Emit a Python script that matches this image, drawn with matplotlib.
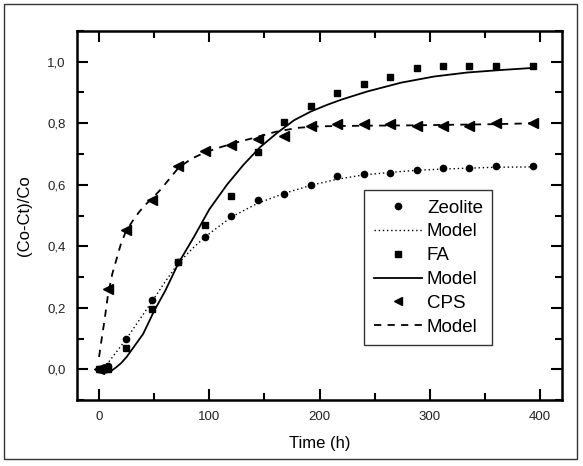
import matplotlib
matplotlib.use('Agg')
import matplotlib.pyplot as plt
from matplotlib.lines import Line2D
from matplotlib.patches import Rectangle
from matplotlib.ticker import MultipleLocator, FuncFormatter

plt.rcParams['font.family'] = ['Liberation Sans', 'DejaVu Sans']

# measured points (time in h)
t_exp = [0, 8, 24, 48, 72, 96, 120, 144, 168, 192, 216, 240, 264, 288, 312, 336, 360, 394]
zeolite = [0.0, 0.01, 0.097, 0.225, 0.35, 0.43, 0.50, 0.55, 0.57, 0.60, 0.627,
           0.636, 0.638, 0.649, 0.654, 0.656, 0.66, 0.66]
fa = [0.0, 0.0, 0.07, 0.197, 0.35, 0.47, 0.565, 0.705, 0.804, 0.856, 0.898,
      0.929, 0.95, 0.979, 0.987, 0.987, 0.987, 0.987]
cps = [0.0, 0.26, 0.452, 0.552, 0.66, 0.709, 0.728, 0.749, 0.76, 0.79, 0.798,
       0.798, 0.798, 0.79, 0.79, 0.79, 0.80, 0.80]

# model curves
t_zeo_mod = [0, 8, 24, 48, 60, 72, 84, 96, 120, 144, 168, 192, 216, 240, 264,
             288, 312, 336, 360, 394]
zeo_mod = [0.0, 0.02, 0.095, 0.22, 0.285, 0.345, 0.39, 0.43, 0.495, 0.54, 0.572,
           0.598, 0.618, 0.632, 0.64, 0.647, 0.651, 0.654, 0.657, 0.658]

t_fa_mod = [0, 5, 10, 15, 20, 25, 30, 40, 50, 60, 72, 86, 100, 116, 131, 146,
            162, 177, 192, 207, 220, 243, 274, 304, 334, 364, 394]
fa_mod = [-0.01, -0.012, -0.008, 0.005, 0.02, 0.04, 0.065, 0.115, 0.19, 0.255,
          0.345, 0.43, 0.52, 0.60, 0.665, 0.722, 0.77, 0.81, 0.838, 0.86, 0.877,
          0.903, 0.932, 0.952, 0.965, 0.973, 0.98]

t_cps_mod = [0, 2, 5, 8, 12, 16, 20, 24, 30, 36, 42, 48, 56, 64, 72, 84, 96, 110,
             125, 140, 160, 180, 200, 240, 280, 320, 360, 394]
cps_mod = [0.04, 0.09, 0.16, 0.24, 0.31, 0.36, 0.41, 0.445, 0.48, 0.51, 0.535,
           0.555, 0.585, 0.62, 0.655, 0.685, 0.705, 0.722, 0.738, 0.752, 0.772,
           0.785, 0.79, 0.792, 0.793, 0.795, 0.797, 0.80]

fig = plt.figure(figsize=(5.83, 4.66), dpi=100)
ax = fig.add_axes([0.1321, 0.1416, 0.832, 0.7919])

ax.plot(t_zeo_mod, zeo_mod, color='black', lw=1.0, linestyle=(0, (1, 2)))
ax.plot(t_fa_mod, fa_mod, color='black', lw=1.3, linestyle='-')
ax.plot(t_cps_mod, cps_mod, color='black', lw=1.3, linestyle=(0, (4, 3.5)))

ax.plot(t_exp, zeolite, 'o', color='black', ms=4.5, lw=0)
ax.plot(t_exp, fa, 's', color='black', ms=5, lw=0)
ax.plot(t_exp, cps, '<', color='black', ms=7, lw=0)

ax.set_xlim(-20, 420)
ax.set_ylim(-0.1, 1.1)
ax.xaxis.set_major_locator(MultipleLocator(100))
ax.xaxis.set_minor_locator(MultipleLocator(50))
ax.yaxis.set_major_locator(MultipleLocator(0.2))
ax.yaxis.set_minor_locator(MultipleLocator(0.1))
ax.yaxis.set_major_formatter(FuncFormatter(lambda v, p: f'{v:.1f}'.replace('.', ',')))

ax.tick_params(which='both', direction='in', top=True, right=True,
               labeltop=False, labelright=False, width=1.5, labelcolor='#222222')
ax.tick_params(which='major', length=8, labelsize=9.5, pad=8)
ax.tick_params(which='minor', length=5)
for s in ax.spines.values():
    s.set_linewidth(1.8)

ax.set_xlabel('Time (h)', fontsize=12, labelpad=9)
ax.set_ylabel('(Co-Ct)/Co', fontsize=12, labelpad=11)

# legend: marker rows and model-line rows listed separately
handles = [
    Line2D([], [], marker='o', color='black', ms=4.5, lw=0),
    Line2D([], [], color='black', lw=1.0, linestyle=(0, (1, 2))),
    Line2D([], [], marker='s', color='black', ms=5, lw=0),
    Line2D([], [], color='black', lw=1.3),
    Line2D([], [], marker='<', color='black', ms=6, lw=0),
    Line2D([], [], color='black', lw=1.3, linestyle=(0, (4, 3.5))),
]
labels = ['Zeolite', 'Model', 'FA', 'Model', 'CPS', 'Model']
leg = ax.legend(handles, labels, loc='upper left', bbox_to_anchor=(0.592, 0.569),
                borderaxespad=0, fontsize=13.5, frameon=True, fancybox=False,
                handlelength=2.6, handletextpad=0.25, labelspacing=0.36,
                borderpad=0.5)
leg.get_frame().set_edgecolor('black')
leg.get_frame().set_linewidth(1.0)

fig.add_artist(Rectangle((4 / 583, 7 / 466), 573 / 583, 455 / 466,
                         transform=fig.transFigure, fill=False,
                         edgecolor='#333333', lw=1.0))

fig.savefig('out.png', dpi=100, facecolor='white')
